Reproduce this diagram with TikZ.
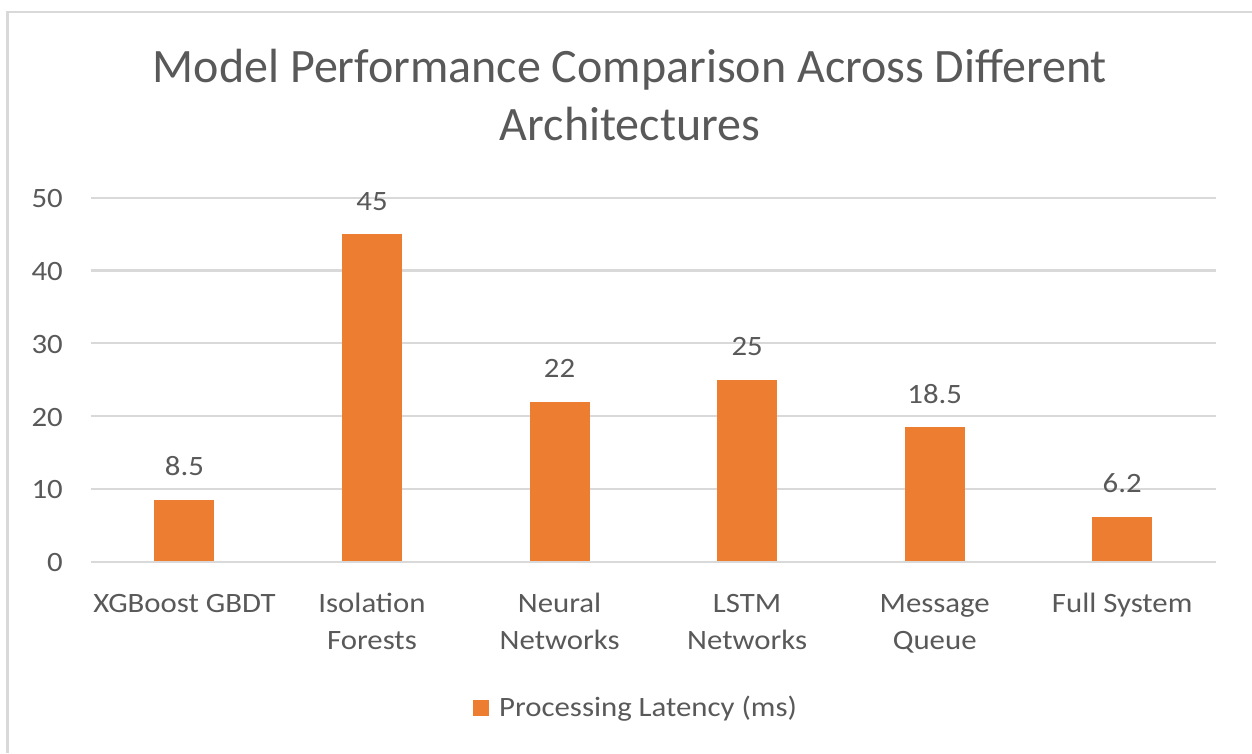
\documentclass[tikz,border=0pt]{standalone}
\usepackage{fontspec}
\setmainfont{Carlito}
\newfontfamily\lblfont{Carlito}[FakeStretch=1.1]
\definecolor{barc}{HTML}{ED7D31}
\definecolor{gridc}{HTML}{D9D9D9}
\definecolor{txtc}{HTML}{595959}
\begin{document}
\begin{tikzpicture}[x=1pt,y=-1pt,
  gridline/.style={draw=gridc,line width=2.2pt},
  lbl/.style={text=txtc,inner sep=0pt,font=\lblfont\fontsize{28}{37}\selectfont},
  ticklbl/.style={lbl,anchor=base east},
  vallbl/.style={lbl,anchor=base},
  catlbl/.style={lbl,anchor=base,align=center},
  barbox/.style={fill=barc}]
\useasboundingbox (0,0) rectangle (1252,753);
\fill[white] (0,0) rectangle (1252,753);
\draw[draw=gridc,line width=2.5pt] (7.5,753) -- (7.5,12) -- (1252,12);
% title
\node[text=txtc,inner sep=0pt,anchor=base,align=center,font=\fontsize{48}{58}\selectfont] (title) at (630,140) {Model Performance Comparison Across Different\\Architectures};
% grid and ticks
\foreach \v/\n in {0/t0,10/t1,20/t2,30/t3,40/t4,50/t5}{
  \draw[gridline] (90.7,{561.7-\v*7.28}) -- (1216,{561.7-\v*7.28});
  \node[ticklbl] (\n) at (63,{561.7-\v*7.28+10}) {\v};
}
% bars
\foreach \i/\val/\n in {0/8.5/b0,1/45/b1,2/22/b2,3/25/b3,4/18.5/b4,5/6.2/b5}{
  \pgfmathsetmacro{\cx}{90.7+(\i+0.5)*187.55}
  \pgfmathsetmacro{\ty}{561.7-\val*7.28}
  \fill[barbox] ({\cx-30},560.5) rectangle ({\cx+30},\ty);
  \node[vallbl] (v\n) at (\cx,{\ty-24}) {\val};
}
% categories
\node[catlbl] (c0) at (184.5,612) {XGBoost GBDT};
\node[catlbl] (c1) at (372.0,649) {Isolation\\Forests};
\node[catlbl] (c2) at (559.6,649) {Neural\\Networks};
\node[catlbl] (c3) at (747.1,649) {LSTM\\Networks};
\node[catlbl] (c4) at (934.7,649) {Message\\Queue};
\node[catlbl] (c5) at (1122.2,612) {Full System};
% legend
\fill[barbox] (473,700) rectangle (489,716);
\node[lbl,anchor=base west] (leg) at (499,716) {Processing Latency (ms)};
\end{tikzpicture}
\end{document}
